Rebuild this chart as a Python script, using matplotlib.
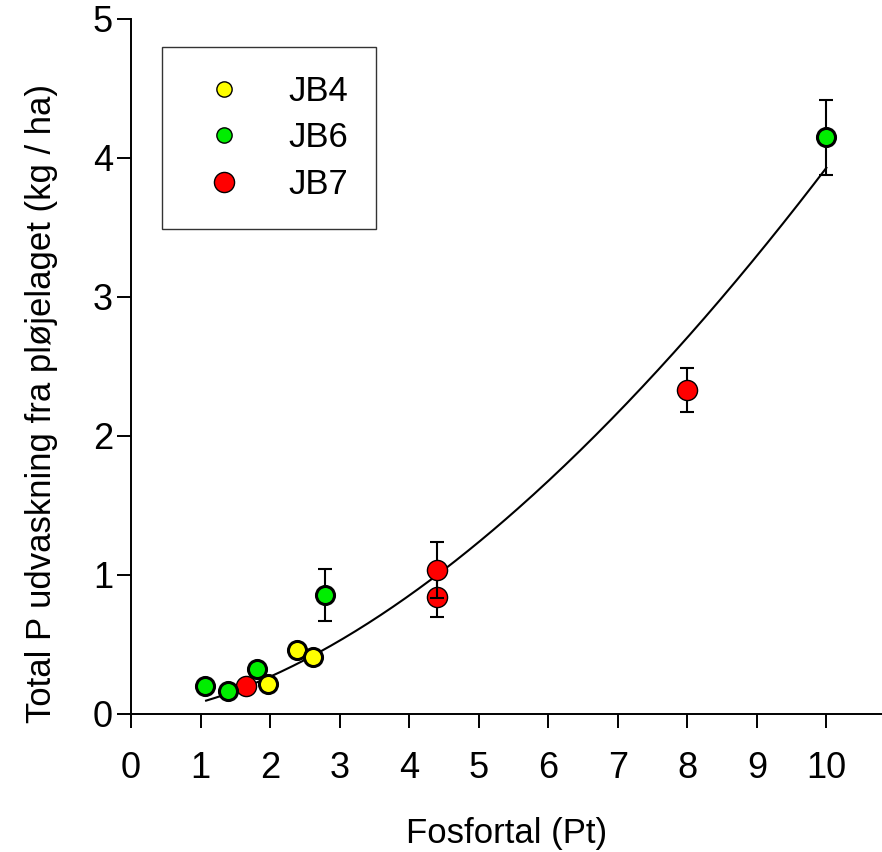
import matplotlib
matplotlib.use("Agg")
import matplotlib.pyplot as plt
from matplotlib.lines import Line2D
import numpy as np

plt.rcParams['font.family'] = ['Liberation Sans', 'DejaVu Sans']

# JB4 (gul)
jb4_x = [1.97, 2.39, 2.62]
jb4_y = [0.215, 0.46, 0.41]
jb4_err = [0, 0, 0]

# JB6 (groen)
jb6_x = [1.07, 1.40, 1.81, 2.79, 10.0]
jb6_y = [0.20, 0.165, 0.32, 0.855, 4.15]
jb6_err = [0, 0, 0, 0.185, 0.27]

# JB7 (roed)
jb7_x = [1.66, 4.40, 4.40, 8.0]
jb7_y = [0.20, 0.845, 1.035, 2.33]
jb7_err = [0, 0.145, 0.20, 0.16]

# regressionskurve y = a * x^b
fit_a = 0.0844
fit_b = 1.668
fit_xmin, fit_xmax = 1.08, 10.0

fig = plt.figure(figsize=(8.82, 8.52), dpi=100)
ax = fig.add_axes([0.1485, 0.162, 0.8515, 0.8157])

xs = np.linspace(fit_xmin, fit_xmax, 200)
ax.plot(xs, fit_a * xs ** fit_b, color='black', lw=1.5, zorder=1)

z = 2
series = [
    (jb7_x, jb7_y, jb7_err, '#ff0000', 14.5, 1.0),
    (jb6_x, jb6_y, jb6_err, '#00ee00', 13, 2.2),
    (jb4_x, jb4_y, jb4_err, '#ffff00', 13, 2.2),
]
for xv, yv, ev, col, ms, mew in series:
    for x, y, e in zip(xv, yv, ev):
        if e > 0:
            ax.errorbar(x, y, yerr=e, fmt='none', ecolor='black', elinewidth=1.5,
                        capsize=5, capthick=1.5, zorder=z)
        ax.plot(x, y, 'o', color=col, markersize=ms, markeredgecolor='black',
                markeredgewidth=mew, zorder=z + 1)
        z += 2

ax.set_xlim(0, 10.8)
ax.set_ylim(0, 5)
ax.set_xticks(range(0, 11))
ax.set_yticks(range(0, 6))
ax.spines['top'].set_visible(False)
ax.spines['right'].set_visible(False)
for s in ['left', 'bottom']:
    ax.spines[s].set_linewidth(1.4)
ax.tick_params(direction='out', length=10, width=1.4, labelsize=26)
ax.tick_params(axis='x', pad=17)
ax.tick_params(axis='y', pad=3)
ax.set_xlabel('Fosfortal (Pt)', fontsize=25, labelpad=22)
ax.set_ylabel('Total P udvaskning fra pløjelaget (kg / ha)', fontsize=25)
ax.yaxis.set_label_coords(-0.097, 0.447)

handles = [
    Line2D([], [], ls='none', marker='o', color='#ffff00', markersize=11,
           markeredgecolor='black', markeredgewidth=1.0),
    Line2D([], [], ls='none', marker='o', color='#00ee00', markersize=11,
           markeredgecolor='black', markeredgewidth=1.0),
    Line2D([], [], ls='none', marker='o', color='#ff0000', markersize=14.5,
           markeredgecolor='black', markeredgewidth=1.0),
]
leg = ax.legend(handles, ['JB4', 'JB6', 'JB7'], loc='upper left',
                bbox_to_anchor=(162 / 882, 1 - 47 / 852), bbox_transform=fig.transFigure,
                fontsize=25, frameon=True, fancybox=False, borderpad=0.8,
                handlelength=1.96, handletextpad=0.89, labelspacing=0.39,
                borderaxespad=0)
leg.get_frame().set_edgecolor('black')
leg.get_frame().set_linewidth(1.0)

fig.savefig('out.png', dpi=100)
